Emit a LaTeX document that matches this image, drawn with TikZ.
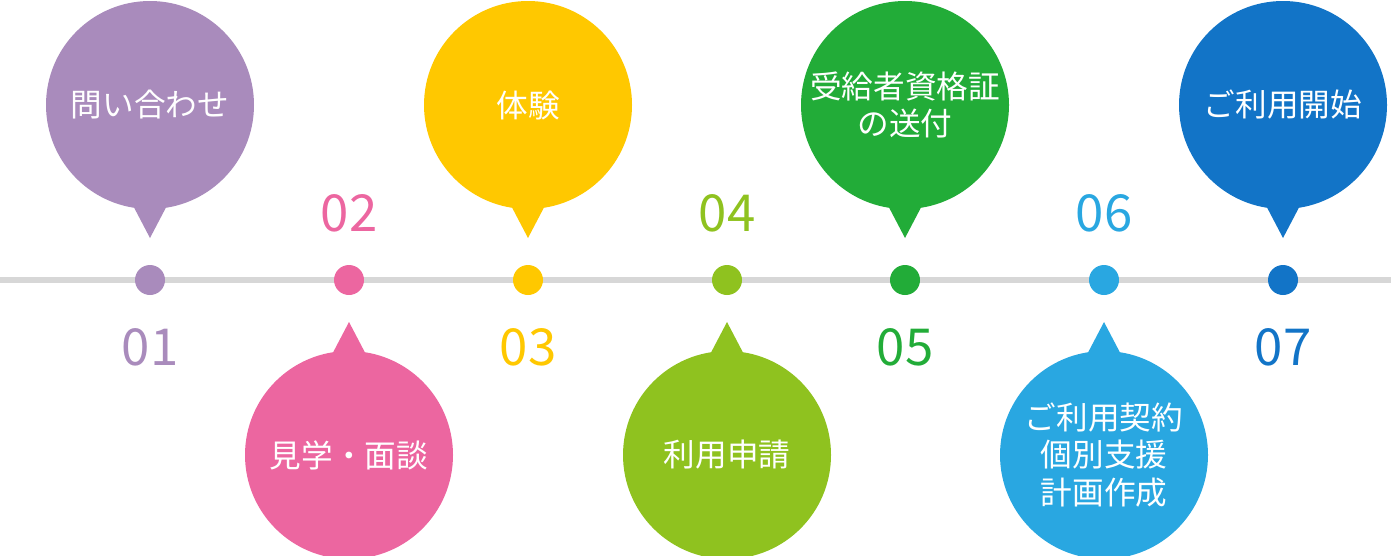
\documentclass[tikz,border=0pt]{standalone}
\usepackage{fontspec}
\newfontfamily\jp{Noto Sans CJK JP}
\definecolor{cA}{HTML}{A98BBC}
\definecolor{cB}{HTML}{EC66A0}
\definecolor{cC}{HTML}{FFC800}
\definecolor{cD}{HTML}{8FC21F}
\definecolor{cE}{HTML}{22AC38}
\definecolor{cF}{HTML}{29A7E1}
\definecolor{cG}{HTML}{1274C7}
\definecolor{lineGray}{HTML}{D7D7D7}
\tikzset{
  bubble/.style={circle, minimum size=208\unit, inner sep=0pt, text=white,
    align=center, font=\jp\fontsize{18}{21.5}\selectfont},
  stepdot/.style={circle, minimum size=30\unit, inner sep=0pt},
  stepnum/.style={font=\jp\fontsize{29}{29}\selectfont}
}
\def\unit{*0.02cm}
\begin{document}
\begin{tikzpicture}[x=0.02cm, y=-0.02cm]
  \useasboundingbox (0,0) rectangle (1391,555);
  % time line
  \coordinate (lstart) at (0,280);
  \coordinate (lend) at (1391,280);
  \draw[lineGray, line width=6\unit] (lstart) -- (lend);
  % steps: x / side (1 = above, -1 = below) / colour / label
  \foreach \n/\x/\s/\c/\t in {
      1/150/1/cA/{問い合わせ},
      2/349/-1/cB/{見学・面談},
      3/528/1/cC/{体験},
      4/727/-1/cD/{利用申請},
      5/905/1/cE/{受給者資格証\\の送付},
      6/1104/-1/cF/{ご利用契約\\個別支援\\計画作成},
      7/1283/1/cG/{ご利用開始}}{
    \node[stepdot, fill=\c] (d\n) at (\x,280) {};
    \node[bubble, fill=\c] (b\n) at (\x,280-175*\s) {\t};
    \coordinate (tip\n) at (\x,280-42*\s);
    \fill[\c] (\x-22,280-84*\s) -- (tip\n) -- (\x+22,280-84*\s) -- cycle;
    \node[stepnum, text=\c] (n\n) at (\x,280+67*\s) {0\n};
  }
\end{tikzpicture}
\end{document}
